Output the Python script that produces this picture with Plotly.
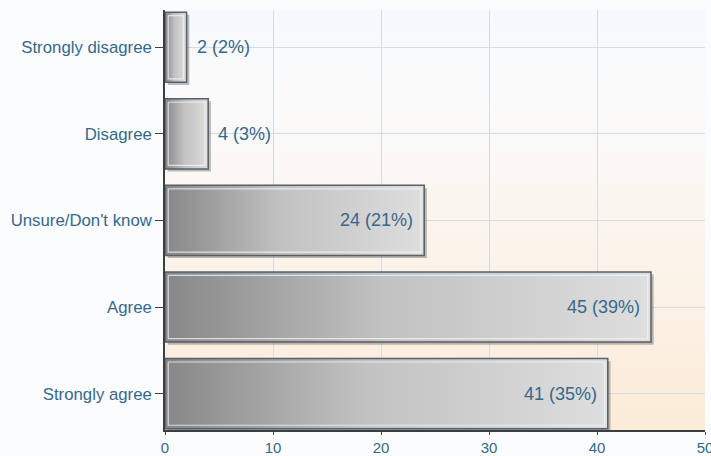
import base64
import plotly.graph_objects as go

# ---- data ----
categories = ["Strongly disagree", "Disagree", "Unsure/Don't know", "Agree", "Strongly agree"]
counts = [2, 4, 24, 45, 41]
percents = [2, 3, 21, 39, 35]
x_ticks = [0, 10, 20, 30, 40, 50]

# ---- style ----
FONT = "Arial, Liberation Sans, sans-serif"
TXT = "#36688a"
HALF = 0.405
grad = dict(type="horizontal",
            colorscale=[[0, "#878787"], [0.45, "#c2c2c2"], [0.6, "#c9c9c9"], [1, "#dedede"]])

fig = go.Figure()
ann = []
for i, (c, v, p) in enumerate(zip(categories, counts, percents)):
    # shadow
    fig.add_trace(go.Scatter(
        x=[0.25, v + 0.25, v + 0.25, 0.25, 0.25],
        y=[i - HALF + 0.03, i - HALF + 0.03, i + HALF + 0.03, i + HALF + 0.03, i - HALF + 0.03],
        mode="lines", fill="toself", fillcolor="rgba(70,70,70,0.35)",
        line=dict(width=0), hoverinfo="skip", showlegend=False))
    # bar
    fig.add_trace(go.Scatter(
        x=[0, v, v, 0, 0],
        y=[i - HALF, i - HALF, i + HALF, i + HALF, i - HALF],
        mode="lines", fill="toself", fillgradient=grad,
        line=dict(color="#56616b", width=1.5), name=c, showlegend=False))
    # inner highlight
    fig.add_trace(go.Scatter(
        x=[0.3, v - 0.3, v - 0.3, 0.3, 0.3],
        y=[i - HALF + 0.04, i - HALF + 0.04, i + HALF - 0.04, i + HALF - 0.04, i - HALF + 0.04],
        mode="lines", line=dict(color="rgba(245,245,245,0.75)", width=1.2),
        hoverinfo="skip", showlegend=False))
    outside = v < 10
    ann.append(dict(x=v, y=i, xref="x", yref="y", text=f"{v} ({p}%)", showarrow=False,
                    xanchor="left" if outside else "right", xshift=8 if outside else -9,
                    font=dict(family=FONT, size=18, color=TXT)))

svg = ('<svg xmlns="http://www.w3.org/2000/svg" width="100" height="100" preserveAspectRatio="none">'
       '<defs><linearGradient id="g" x1="0" y1="0" x2="0" y2="1">'
       '<stop offset="0" stop-color="#f6f9fd"/><stop offset="0.25" stop-color="#fbfaf9"/>'
       '<stop offset="1" stop-color="#fcebd8"/></linearGradient></defs>'
       '<rect width="100" height="100" fill="url(#g)"/></svg>')
src = "data:image/svg+xml;base64," + base64.b64encode(svg.encode()).decode()

fig.update_layout(
    width=711, height=456,
    margin=dict(l=165, r=6, t=10, b=26),
    paper_bgcolor="#fbfcfe", plot_bgcolor="rgba(0,0,0,0)",
    images=[dict(source=src, xref="paper", yref="paper", x=0, y=1, sizex=1, sizey=1,
                 xanchor="left", yanchor="top", sizing="stretch", layer="below")],
    annotations=ann,
    font=dict(family=FONT, color=TXT),
    xaxis=dict(range=[0, 50], tickvals=x_ticks, showgrid=True, gridcolor="#d4dde6", gridwidth=1,
               zeroline=False, showline=True, linecolor="#3a3f44", linewidth=1.5,
               ticks="outside", ticklen=3, tickcolor="#3a3f44", automargin=False,
               ticklabeloverflow="allow",
               tickfont=dict(family=FONT, size=15, color=TXT)),
    yaxis=dict(range=[4.42, -0.43], tickvals=list(range(len(categories))), ticktext=categories,
               showgrid=True, gridcolor="#d4dde6", gridwidth=1, zeroline=False,
               showline=True, linecolor="#3a3f44", linewidth=1.5, automargin=False,
               ticks="outside", ticklen=8, tickcolor="#3a3f44",
               tickfont=dict(family=FONT, size=16.8, color=TXT)),
)

fig.write_html("out.html")
